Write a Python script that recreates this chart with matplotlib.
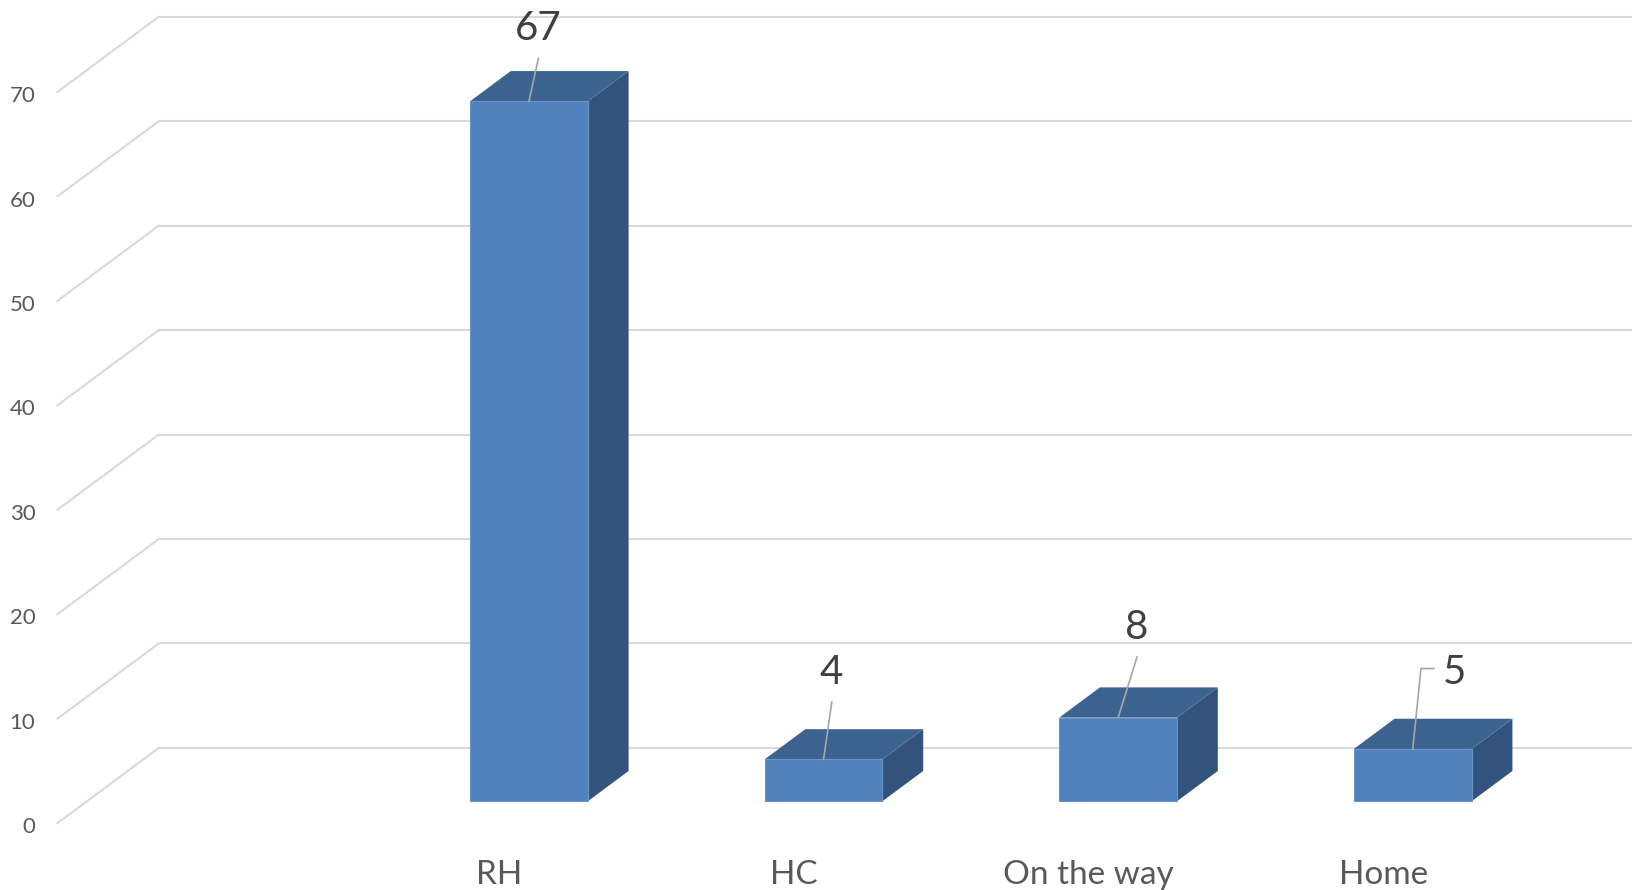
import numpy as np
import matplotlib
matplotlib.use("Agg")
import matplotlib.pyplot as plt

categories = ["", "RH", "HC", "On the way", "Home"]
values = [None, 67, 4, 8, 5]
y_ticks = list(range(0, 80, 10))

# label / leader offsets from the bar's top front edge (data units: slots, values)
leader_ends = [None, (0.032, 4.1), (0.028, 5.5), (0.064, 5.8), (0.028, 7.7)]
label_offsets = [None, (0.032, 7.0), (0.025, 8.3), (0.064, 8.6), (0.142, 7.3)]

plt.rcParams['font.family'] = ['Lato', 'DejaVu Sans']

# oblique projection: z = 0 at the back wall, z = 1 at the front edge
DX, DY = -0.344, -7.2
BAR_W = 0.40
Z_BACK, Z_FRONT = 0.306, 0.708

FRONT = '#4f81bd'
TOP = '#3c6390'
SIDE = '#32537c'
GRID = '#d9d9d9'


def proj(x, y, z):
    return x + DX * z, y + DY * z


fig = plt.figure(figsize=(16.38, 8.9), dpi=100)
ax = fig.add_axes([0, 0, 1, 1])
ax.set_xlim(-0.539, 5.021)
ax.set_ylim(-13.60, 71.60)
ax.axis('off')

n = len(categories)

# gridlines: back wall + left wall
for t in y_ticks:
    ax.plot([0, n], [t, t], color=GRID, lw=1.5, zorder=1, solid_capstyle='butt')
    fx, fy = proj(0, t, 1)
    ax.plot([0, fx], [t, fy], color=GRID, lw=1.5, zorder=1)
    ax.text(fx - 0.075, fy - 0.4, str(t), ha='right', va='center', fontsize=16,
            color='#595959')

# bars
for i, v in enumerate(values):
    if v is None:
        continue
    c = i + 0.5
    x0, x1 = c - BAR_W / 2, c + BAR_W / 2
    fbl = proj(x0, 0, Z_FRONT)
    fbr = proj(x1, 0, Z_FRONT)
    ftl = proj(x0, v, Z_FRONT)
    ftr = proj(x1, v, Z_FRONT)
    bbr = proj(x1, 0, Z_BACK)
    btl = proj(x0, v, Z_BACK)
    btr = proj(x1, v, Z_BACK)

    side = np.array([fbr, bbr, btr, ftr])
    top = np.array([ftl, ftr, btr, btl])
    front = np.array([fbl, fbr, ftr, ftl])
    ax.fill(side[:, 0], side[:, 1], color=SIDE, lw=0, zorder=3)
    ax.fill(top[:, 0], top[:, 1], color=TOP, lw=0, zorder=3)
    ax.fill(front[:, 0], front[:, 1], facecolor=FRONT, edgecolor='#6a95c9',
            lw=0.8, zorder=4)

    # data label with leader line
    tx, ty = proj(c, v, Z_FRONT)
    lx, ly = leader_ends[i]
    ox, oy = label_offsets[i]
    xs = [tx, tx + lx]
    ys = [ty, ty + ly]
    if ox - lx > 0.08:
        xs.append(tx + ox - 0.07)
        ys.append(ys[-1])
    ax.plot(xs, ys, color='#a6a6a6', lw=1.2, zorder=5)
    ax.text(tx + ox, ty + oy, str(v), ha='center', va='center',
            fontsize=29, color='#404040', zorder=6)

# category labels at the front edge
for i, cat in enumerate(categories):
    if not cat:
        continue
    cx, _ = proj(i + 0.5, 0, 1)
    ax.text(cx, -12.2, cat, ha='center', va='center', fontsize=24,
            color='#595959')

fig.savefig('out.png', dpi=100, facecolor='white')
